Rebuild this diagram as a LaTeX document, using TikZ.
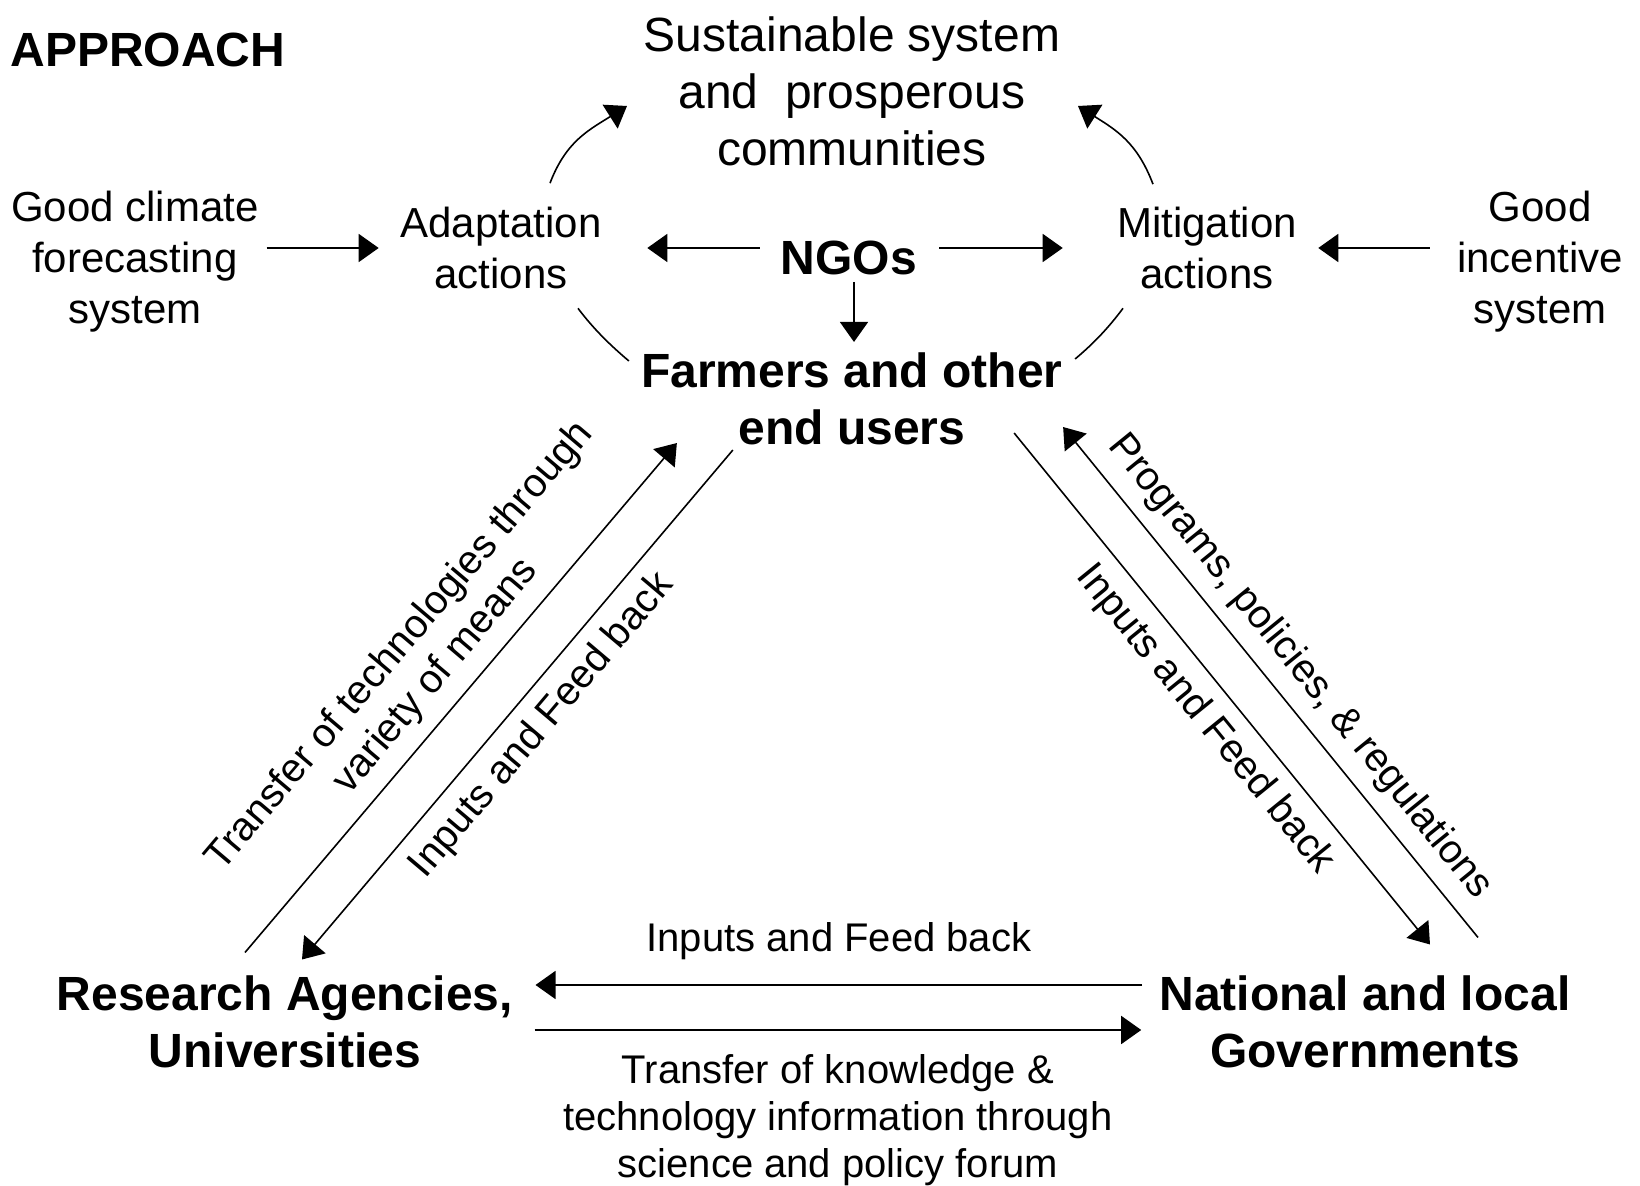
\documentclass[tikz,border=0pt]{standalone}
\usepackage{fontspec}
\setmainfont{Liberation Sans}
\usepackage{tikz}
\usetikzlibrary{arrows.meta, calc}
\tikzstyle{goal} = [align=center, inner sep=0pt, font=\fontsize{24}{28.5}\selectfont]
\tikzstyle{medtext} = [align=center, inner sep=0pt, font=\fontsize{21}{25.5}\selectfont]
\tikzstyle{smalltext} = [align=center, inner sep=0pt, font=\fontsize{20}{23.5}\selectfont]
\tikzstyle{actor} = [align=center, inner sep=0pt, font=\bfseries\fontsize{24}{28.5}\selectfont]
\tikzstyle{arrow} = [line width=0.8pt, -{Triangle[length=10pt,width=14pt]}]
\tikzstyle{link} = [line width=0.8pt]

\begin{document}
\begin{tikzpicture}[x=0.5pt, y=-0.5pt]
	\useasboundingbox (0,0) rectangle (1640,1186);
	\node (Approach) [actor, anchor=west] at (10,50) {APPROACH};
	\node (Goal) [goal] at (852,91.5) {Sustainable system\\and\ \ prosperous\\communities};
	\node (Forecast) [medtext] at (135,262) {Good climate\\forecasting\\system};
	\node (Adaptation) [medtext] at (501,248) {Adaptation\\actions};
	\node (NGOs) [actor] at (849,258) {NGOs};
	\node (Mitigation) [medtext] at (1207,248) {Mitigation\\actions};
	\node (Incentive) [medtext] at (1540,262) {Good\\incentive\\system};
	\node (Farmers) [actor] at (852,398.5) {Farmers and other\\end users};
	\node (Research) [actor] at (285,1022) {Research Agencies,\\Universities};
	\node (Government) [actor] at (1365,1022) {National and local\\Governments};

	% inputs to the actions
	\draw [arrow, shorten <=3.75pt, shorten >=10.75pt] (Forecast.east |- Adaptation.west) -- (Adaptation.west);
	\draw [arrow, shorten <=10.5pt, shorten >=22.75pt] (NGOs.west |- Adaptation.east) -- (Adaptation.east);
	\draw [arrow, shorten <=11pt, shorten >=27pt] (NGOs.east |- Mitigation.west) -- (Mitigation.west);
	\draw [arrow, shorten <=13.5pt, shorten >=10.5pt] (Incentive.west |- Mitigation.east) -- (Mitigation.east);
	\draw [arrow, shorten <=3.25pt, shorten >=5pt] ([xshift=2.5pt]NGOs.south) -- ([xshift=2.5pt]NGOs.south |- Farmers.north);

	% loop round the actions
	\draw [arrow] ([shift={(49,-23.5)}]Adaptation.north) .. controls +(16,-42) and +(-38,24) .. ([shift={(-16.5,14.5)}]Goal.west);
	\draw [link] ([shift={(77,19)}]Adaptation.south) .. controls +(15,20) and +(-19,-16) .. ([shift={(-12,9)}]Farmers.north west);
	\draw [arrow] ([shift={(-54,-22.5)}]Mitigation.north) .. controls +(-16,-42) and +(38,24) .. ([shift={(17.5,14.5)}]Goal.east);
	\draw [link] ([shift={(-84,19)}]Mitigation.south) .. controls +(-15,20) and +(19,-16) .. ([shift={(12,7)}]Farmers.north east);

	% research <-> farmers
	\draw [arrow] ([shift={(-40,-23)}]Research.north) -- node[smalltext, midway, sloped, above=6.5pt] {Transfer of technologies through\\variety of means} ([shift={(36,-2)}]Farmers.south west);
	\draw [arrow] ([shift={(92,5)}]Farmers.south west) -- node[smalltext, midway, sloped, below=6.5pt] {Inputs and Feed back} ([shift={(17,-16)}]Research.north);
	% government <-> farmers
	\draw [arrow] ([shift={(-49,-12)}]Farmers.south east) -- node[smalltext, pos=0.52, sloped, below=6.5pt] {Inputs and Feed back} ([shift={(65,-31)}]Government.north);
	\draw [arrow] ([shift={(113,-38)}]Government.north) -- node[smalltext, pos=0.49, sloped, above=6.5pt] {Programs, policies, \& regulations} ([shift={(0,-18)}]Farmers.south east);
	% research <-> government
	\draw [arrow] ([shift={(-17,-37)}]Government.west) -- node[smalltext, midway, above=12pt] {Inputs and Feed back} ([shift={(22,-37)}]Research.east);
	\draw [arrow] ([shift={(21,8)}]Research.east) -- node[smalltext, midway, below=12pt] {Transfer of knowledge \&\\technology information through\\science and policy forum} ([shift={(-18,8)}]Government.west);
\end{tikzpicture}
\end{document}
